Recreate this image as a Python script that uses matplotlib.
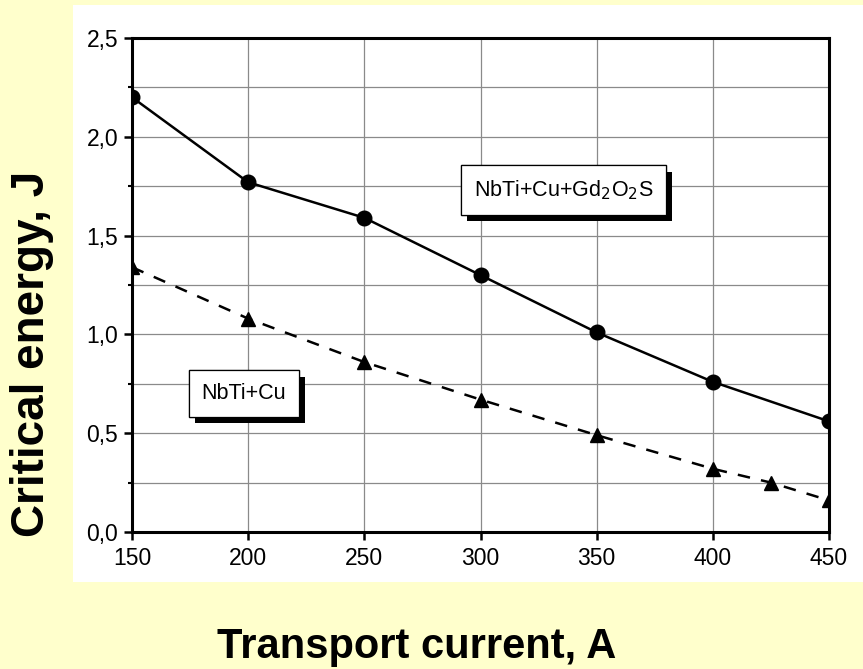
import matplotlib
matplotlib.use("Agg")
import matplotlib.pyplot as plt
import matplotlib.patheffects as pe
from matplotlib.patches import Rectangle
from matplotlib.ticker import MultipleLocator, FuncFormatter

plt.rcParams['font.family'] = ['Liberation Sans', 'DejaVu Sans']

# Critical energy vs transport current
current_gd = [150, 200, 250, 300, 350, 400, 450]
energy_gd = [2.20, 1.77, 1.59, 1.30, 1.01, 0.76, 0.56]

current_cu = [150, 200, 250, 300, 350, 400, 425, 450]
energy_cu = [1.34, 1.08, 0.86, 0.67, 0.49, 0.32, 0.25, 0.16]

label_gd = "NbTi+Cu+Gd$_2$O$_2$S"
label_cu = "NbTi+Cu"
xlabel = "Transport current, A"
ylabel = "Critical energy, J"

BG = "#FFFFCC"

fig = plt.figure(figsize=(8.63, 6.69), dpi=100, facecolor=BG)

# white panel behind the plot
fig.patches.append(Rectangle((73 / 863, 1 - 582 / 669), 1 - 73 / 863, (582 - 5) / 669,
                             transform=fig.transFigure, facecolor="white",
                             edgecolor="none", zorder=-1))

ax = fig.add_axes([132 / 863, 1 - 532 / 669, (829 - 132) / 863, (532 - 38) / 669])
ax.set_zorder(1)
ax.set_facecolor("white")

ax.plot(current_gd, energy_gd, color="black", lw=1.8, marker="o", ms=10.5,
        zorder=3)
ax.plot(current_cu, energy_cu, color="black", lw=1.8, marker="^", ms=10.5,
        dashes=(5, 4.5), zorder=3)

ax.set_xlim(150, 450)
ax.set_ylim(0, 2.5)
ax.xaxis.set_major_locator(MultipleLocator(50))
ax.yaxis.set_major_locator(MultipleLocator(0.5))
ax.yaxis.set_minor_locator(MultipleLocator(0.25))
ax.yaxis.set_major_formatter(FuncFormatter(lambda v, p: f"{v:.1f}".replace(".", ",")))

ax.grid(True, which="major", color="#8a8a8a", lw=0.9)
ax.grid(True, which="minor", axis="y", color="#8a8a8a", lw=0.9)
ax.set_axisbelow(True)

for s in ax.spines.values():
    s.set_linewidth(2.2)
    s.set_zorder(4)

ax.tick_params(axis="both", which="major", direction="out", length=6, width=1.8,
               labelsize=16.5, colors="black")
ax.tick_params(axis="x", pad=5)
ax.tick_params(axis="y", pad=4)
ax.tick_params(axis="y", which="minor", direction="out", length=3, width=1.5)

# legend-style labels with drop shadows
shadow = [pe.withSimplePatchShadow(offset=(4.5, -4.5), shadow_rgbFace="black",
                                   alpha=1.0), pe.Normal()]
for txt, x, y in [(label_gd, 335.7, 1.73), (label_cu, 198.2, 0.70)]:
    t = ax.text(x, y, txt, fontsize=15.5, ha="center", va="center", zorder=5,
                bbox=dict(boxstyle="square,pad=0.6", facecolor="white",
                          edgecolor="black", lw=0.9))
    t.get_bbox_patch().set_path_effects(shadow)

fig.text(417 / 863, 1 - 647 / 669, xlabel, fontsize=30, fontweight="bold",
         ha="center", va="center")
fig.text(32 / 863, 1 - 354 / 669, ylabel, fontsize=33, fontweight="bold",
         ha="center", va="center", rotation=90)

fig.savefig("out.png", dpi=100, facecolor=BG)
